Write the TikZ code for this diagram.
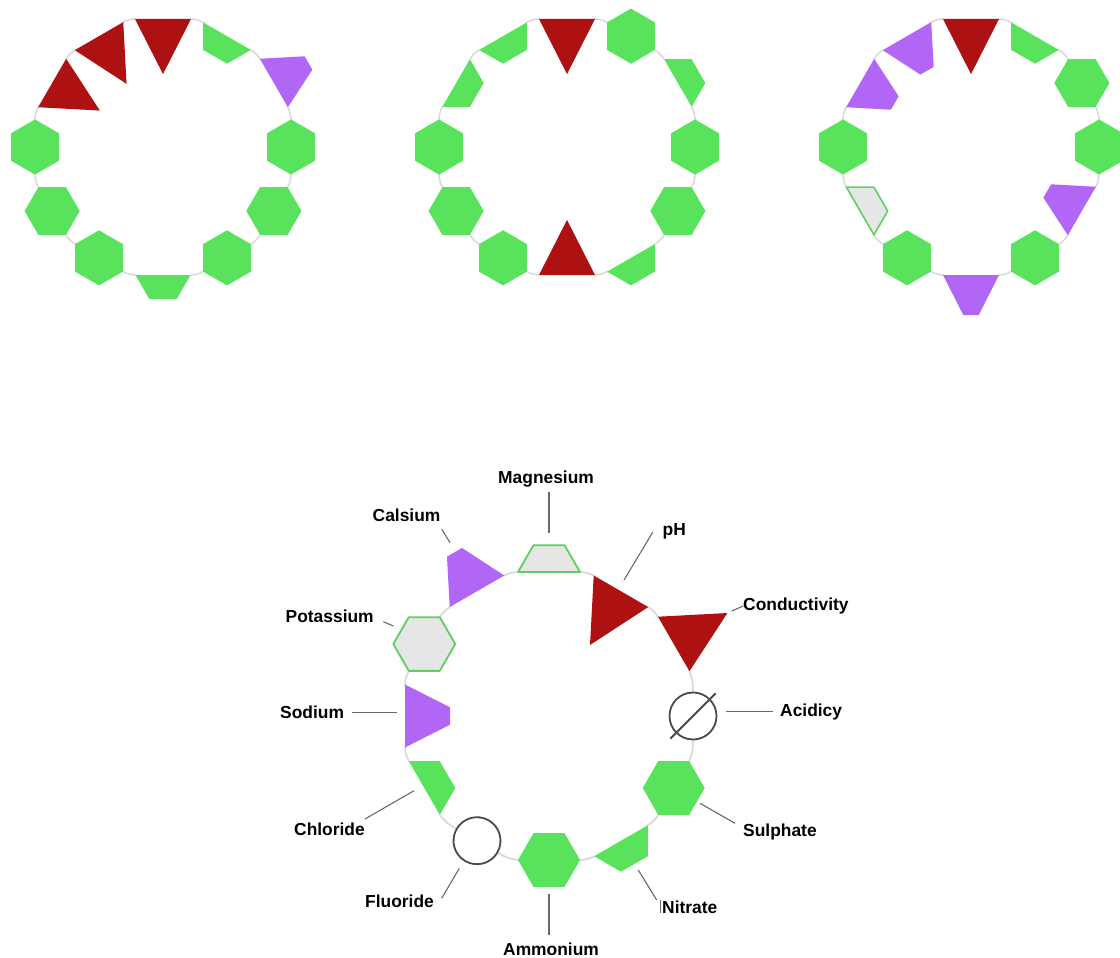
\documentclass[tikz,border=0pt]{standalone}
\usepackage{fontspec}
\setmainfont{Liberation Sans}
\pgfdeclarelayer{bg}
\pgfsetlayers{bg,main}
\definecolor{gG}{HTML}{59E35C}
\definecolor{gR}{HTML}{AE1111}
\definecolor{gP}{HTML}{B266F5}
\definecolor{gGrey}{HTML}{E6E6E6}
\definecolor{gOut}{HTML}{5FCF62}
\definecolor{ringc}{HTML}{DADADA}
\definecolor{circc}{HTML}{4A4A4A}
\definecolor{leadc}{HTML}{6A6A6A}
\newcommand\drawglyph[3]{%
  \ifcase#1\relax
    \path[fill=#2,draw=#3] (0:31)--(60:31)--(120:31)--(180:31)--(240:31)--(300:31)--cycle;
  \or \path[fill=#2,draw=#3] (-31.5,0)--(31.5,0)--(0,-62)--cycle;
  \or \path[fill=#2,draw=#3] (-31.5,0)--(31.5,0)--(0,62)--cycle;
  \or \path[fill=#2,draw=#3] (-31,0)--(31,0)--(15.5,-26.8)--(-15.5,-26.8)--cycle;
  \or \path[fill=#2,draw=#3] (-31,0)--(31,0)--(15.5,26.8)--(-15.5,26.8)--cycle;
  \or \path[fill=#2,draw=#3] (-31.5,0)--(31.5,0)--(8.7,-45)--(-8.7,-45)--cycle;
  \or \path[fill=#2,draw=#3] (-31.5,0)--(31.5,0)--(8.7,45)--(-8.7,45)--cycle;
  \or \path[fill=#2,draw=#3] (0,0) circle[radius=23.5];
  \fi}
\newcommand\wheel[5]{%
  \foreach \typ/\fc/\dc [count=\k from 0] in {#5}{
    \begin{scope}[shift={(#2,#3)},scale=#4,rotate=-30*\k,shift={(0,144)},
                  line width=#4*1.8pt,line join=round]
      \drawglyph{\typ}{\fc}{\dc}
      \ifnum\typ=7 \def\hw{23.5}\else\def\hw{31}\fi
      \coordinate (#1a\k) at (-\hw,0);
      \coordinate (#1b\k) at (\hw,0);
      \coordinate (#1c\k) at (0,0);
    \end{scope}
  }
  \begin{pgfonlayer}{bg}
  \foreach \k in {0,...,11}{
    \pgfmathtruncatemacro\n{mod(\k+1,12)}
    \draw[ringline,line width=#4*1.8pt] (#1b\k) to[bend left=12] (#1a\n);
  }
  \end{pgfonlayer}
}
\tikzset{
  ringline/.style={draw=ringc,line cap=round},
  lab/.style={font=\bfseries\fontsize{17.4}{17.4}\selectfont,text=black,inner sep=0pt,anchor=base west},
  leader/.style={draw=leadc,line width=1.1pt}
}
\begin{document}
\begin{tikzpicture}[x=1pt,y=1pt]
\useasboundingbox (0,0) rectangle (1120,-958);
\clip (0,0) rectangle (1120,-958);
% top wheels
\wheel{Wa}{163}{-147}{0.8889}{1/gR/none, 3/gG/none, 6/gP/none, 0/gG/none, 0/gG/none, 0/gG/none, 4/gG/none, 0/gG/none, 0/gG/none, 0/gG/none, 1/gR/none, 1/gR/none}
\wheel{Wb}{567}{-147}{0.8889}{1/gR/none, 0/gG/none, 4/gG/none, 0/gG/none, 0/gG/none, 4/gG/none, 1/gR/none, 0/gG/none, 0/gG/none, 0/gG/none, 3/gG/none, 3/gG/none}
\wheel{Wc}{971}{-147}{0.8889}{1/gR/none, 3/gG/none, 0/gG/none, 0/gG/none, 5/gP/none, 0/gG/none, 6/gP/none, 0/gG/none, 3/gGrey/gOut, 0/gG/none, 5/gP/none, 5/gP/none}
% bottom labelled wheel
\wheel{B}{549}{-716}{1}{4/gGrey/gOut, 1/gR/none, 2/gR/none, 7/white/circc, 0/gG/none, 4/gG/none, 0/gG/none, 7/white/circc, 3/gG/none, 5/gP/none, 0/gGrey/gOut, 6/gP/none}
\draw[draw=circc,line width=1.8pt] (Bc3) ++(-135:32) -- ++(45:64);
% labels
\node[lab] (mg) at (498,-483.3) {Magnesium};
\node[lab] (ph) at (662.5,-535) {pH};
\node[lab] (ca) at (372.5,-521.7) {Calsium};
\node[lab] (po) at (285.5,-622.3) {Potassium};
\node[lab] (na) at (280,-718.3) {Sodium};
\node[lab] (co) at (743,-610) {Conductivity};
\node[lab] (ac) at (780,-716.7) {Acidicy};
\node[lab] (cl) at (294,-835.7) {Chloride};
\node[lab] (su) at (743,-836) {Sulphate};
\node[lab] (fl) at (365,-907.3) {Fluoride};
\node[lab] (am) at (503,-955) {Ammonium};
\node[lab] (ni) at (662,-913.7) {Nitrate};
% leader end points
\coordinate (mg1) at (549,-491.7);   \coordinate (mg2) at (549,-533.3);
\coordinate (ph1) at (652.7,-532.3); \coordinate (ph2) at (624,-580);
\coordinate (co1) at (743.3,-606);   \coordinate (co2) at (731.7,-611);
\coordinate (ac1) at (773.3,-711.3); \coordinate (ac2) at (725.7,-711.3);
\coordinate (su1) at (735,-823.3);   \coordinate (su2) at (700,-803.3);
\coordinate (ni1) at (656.7,-900);   \coordinate (ni2) at (638.3,-870);
\coordinate (ni3) at (660.5,-900);   \coordinate (ni4) at (660.5,-913.3);
\coordinate (am1) at (549,-935);     \coordinate (am2) at (549,-894);
\coordinate (fl1) at (441.7,-898.3); \coordinate (fl2) at (459.3,-868.3);
\coordinate (cl1) at (365,-819);     \coordinate (cl2) at (414,-790.7);
\coordinate (na1) at (351.7,-712.3); \coordinate (na2) at (396.7,-712.3);
\coordinate (po1) at (383.3,-621.7); \coordinate (po2) at (393.3,-626);
\coordinate (ca1) at (441.7,-529);   \coordinate (ca2) at (450,-542.7);
\foreach \p in {mg,ph,co,ac,su,ni,am,fl,cl,na,po,ca}{
  \draw[leader] (\p1) -- (\p2);
}
\draw[leader,line width=0.8pt] (ni3) -- (ni4);
\end{tikzpicture}
\end{document}
